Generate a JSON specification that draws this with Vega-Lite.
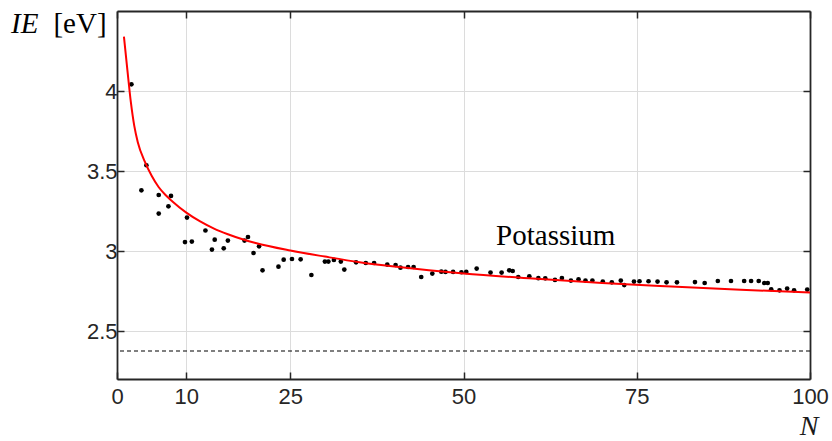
{
  "$schema": "https://vega.github.io/schema/vega-lite/v6.json",
  "width": 693,
  "height": 368,
  "autosize": {"type": "none"},
  "padding": {"left": 117, "top": 11, "right": 22, "bottom": 62},
  "background": "white",
  "config": {
    "view": {"stroke": null},
    "axis": {
      "domainColor": "#262626",
      "domainWidth": 1.8,
      "tickColor": "#262626",
      "tickWidth": 1.5,
      "tickSize": -7,
      "labelFont": "Liberation Sans",
      "labelFontSize": 22,
      "labelColor": "#262626",
      "labelOverlap": false,
      "labelFlush": false,
      "gridColor": "#dcdcdc",
      "gridWidth": 1,
      "titleFont": "Liberation Serif",
      "titleFontSize": 28,
      "titleFontStyle": "italic",
      "titleFontWeight": "normal",
      "titleColor": "#1a1a1a"
    }
  },
  "datasets": {
    "points": [
      {"N": 2.08, "IE": 4.042}, {"N": 3.52, "IE": 3.379}, {"N": 4.24, "IE": 3.536},
      {"N": 6.02, "IE": 3.35}, {"N": 6.02, "IE": 3.234}, {"N": 7.42, "IE": 3.279},
      {"N": 7.79, "IE": 3.344}, {"N": 9.81, "IE": 3.056}, {"N": 10.1, "IE": 3.209},
      {"N": 10.8, "IE": 3.059}, {"N": 12.76, "IE": 3.128}, {"N": 13.7, "IE": 3.009},
      {"N": 14.1, "IE": 3.071}, {"N": 15.4, "IE": 3.017}, {"N": 16.0, "IE": 3.065},
      {"N": 18.4, "IE": 3.065}, {"N": 18.9, "IE": 3.0875}, {"N": 19.7, "IE": 2.9875},
      {"N": 20.5, "IE": 3.029}, {"N": 21.0, "IE": 2.879}, {"N": 23.3, "IE": 2.902},
      {"N": 24.05, "IE": 2.946}, {"N": 25.25, "IE": 2.95}, {"N": 26.5, "IE": 2.948},
      {"N": 28.05, "IE": 2.85}, {"N": 30.0, "IE": 2.934}, {"N": 30.5, "IE": 2.934},
      {"N": 31.3, "IE": 2.944}, {"N": 32.3, "IE": 2.934}, {"N": 32.8, "IE": 2.884},
      {"N": 34.5, "IE": 2.929}, {"N": 35.9, "IE": 2.925}, {"N": 37.1, "IE": 2.925},
      {"N": 39.0, "IE": 2.915}, {"N": 40.2, "IE": 2.9125}, {"N": 40.9, "IE": 2.896},
      {"N": 42.0, "IE": 2.9}, {"N": 42.8, "IE": 2.9}, {"N": 43.9, "IE": 2.8375},
      {"N": 45.5, "IE": 2.859}, {"N": 46.8, "IE": 2.871}, {"N": 47.4, "IE": 2.869},
      {"N": 48.5, "IE": 2.869}, {"N": 49.7, "IE": 2.867}, {"N": 50.4, "IE": 2.869},
      {"N": 51.9, "IE": 2.89}, {"N": 53.9, "IE": 2.865}, {"N": 55.5, "IE": 2.865},
      {"N": 56.6, "IE": 2.879}, {"N": 57.1, "IE": 2.875}, {"N": 57.9, "IE": 2.8375},
      {"N": 59.5, "IE": 2.842}, {"N": 60.8, "IE": 2.83}, {"N": 61.8, "IE": 2.829},
      {"N": 63.2, "IE": 2.819}, {"N": 64.2, "IE": 2.831}, {"N": 65.5, "IE": 2.815},
      {"N": 66.6, "IE": 2.823}, {"N": 67.6, "IE": 2.815}, {"N": 68.6, "IE": 2.815},
      {"N": 70.1, "IE": 2.809}, {"N": 71.4, "IE": 2.804}, {"N": 72.7, "IE": 2.815},
      {"N": 73.2, "IE": 2.787}, {"N": 74.6, "IE": 2.809}, {"N": 75.4, "IE": 2.811},
      {"N": 76.7, "IE": 2.811}, {"N": 78.0, "IE": 2.809}, {"N": 79.3, "IE": 2.804},
      {"N": 80.8, "IE": 2.804}, {"N": 83.4, "IE": 2.806}, {"N": 84.8, "IE": 2.8},
      {"N": 86.7, "IE": 2.8125}, {"N": 88.6, "IE": 2.8125}, {"N": 90.5, "IE": 2.8125},
      {"N": 91.5, "IE": 2.8125}, {"N": 92.6, "IE": 2.8125}, {"N": 93.4, "IE": 2.8},
      {"N": 93.9, "IE": 2.8}, {"N": 94.4, "IE": 2.761}, {"N": 95.6, "IE": 2.754},
      {"N": 96.7, "IE": 2.765}, {"N": 97.7, "IE": 2.754}, {"N": 99.6, "IE": 2.759}
    ],
    "curve": [
      {"N": 1, "IE": 4.34}, {"N": 1.5, "IE": 4.13}, {"N": 2, "IE": 3.93},
      {"N": 2.5, "IE": 3.78}, {"N": 3, "IE": 3.68}, {"N": 4, "IE": 3.56},
      {"N": 5, "IE": 3.47}, {"N": 6, "IE": 3.4}, {"N": 7, "IE": 3.35},
      {"N": 8, "IE": 3.31}, {"N": 10, "IE": 3.24}, {"N": 12, "IE": 3.185},
      {"N": 14, "IE": 3.14}, {"N": 16, "IE": 3.105}, {"N": 18, "IE": 3.075},
      {"N": 20, "IE": 3.05}, {"N": 25, "IE": 3.003}, {"N": 30, "IE": 2.965},
      {"N": 35, "IE": 2.93}, {"N": 40, "IE": 2.903}, {"N": 45, "IE": 2.88},
      {"N": 50, "IE": 2.86}, {"N": 60, "IE": 2.828}, {"N": 70, "IE": 2.8},
      {"N": 80, "IE": 2.778}, {"N": 90, "IE": 2.758}, {"N": 100, "IE": 2.74}
    ]
  },
  "layer": [
    {
      "data": {"name": "points"},
      "mark": {"type": "circle", "color": "black", "opacity": 1, "size": 22},
      "encoding": {
        "x": {
          "field": "N", "type": "quantitative",
          "scale": {"domain": [0, 100], "nice": false, "zero": false},
          "axis": {
            "orient": "bottom", "values": [0, 10, 25, 50, 75, 100], "grid": true,
            "labelPadding": 14,
            "title": "N", "titleAnchor": "end", "titleAlign": "right",
            "titleX": 701, "titleY": 55, "titleBaseline": "alphabetic"
          }
        },
        "y": {
          "field": "IE", "type": "quantitative",
          "scale": {"domain": [2.2, 4.5], "nice": false, "zero": false},
          "axis": {"orient": "left", "values": [2.5, 3, 3.5, 4], "format": "~g", "grid": true, "labelPadding": 7, "title": null}
        }
      }
    },
    {
      "data": {"name": "curve"},
      "mark": {"type": "line", "color": "#ff0000", "strokeWidth": 2, "interpolate": "monotone"},
      "encoding": {
        "x": {
          "field": "N", "type": "quantitative",
          "axis": {"orient": "top", "values": [0, 10, 25, 50, 75, 100], "grid": false, "labels": false, "title": null}
        },
        "y": {
          "field": "IE", "type": "quantitative",
          "axis": {"orient": "right", "values": [2.5, 3, 3.5, 4], "grid": false, "labels": false, "title": null}
        }
      }
    },
    {
      "data": {"values": [{}]},
      "mark": {"type": "rule", "color": "black", "strokeWidth": 1.2, "strokeDash": [4, 3]},
      "encoding": {
        "y": {"datum": 2.375, "type": "quantitative", "axis": null}
      }
    },
    {
      "data": {"values": [{}]},
      "mark": {"type": "text", "font": "Liberation Serif", "fontSize": 29, "align": "left", "baseline": "alphabetic", "color": "black"},
      "encoding": {
        "x": {"datum": 54.7, "type": "quantitative", "axis": null},
        "y": {"datum": 3.04, "type": "quantitative", "axis": null},
        "text": {"value": "Potassium"}
      }
    },
    {
      "data": {"values": [{}]},
      "mark": {"type": "text", "font": "Liberation Serif", "fontSize": 29, "fontStyle": "italic", "align": "left", "baseline": "alphabetic", "color": "black"},
      "encoding": {
        "x": {"datum": -15.3, "type": "quantitative", "axis": null},
        "y": {"datum": 4.365, "type": "quantitative", "axis": null},
        "text": {"value": "IE"}
      }
    },
    {
      "data": {"values": [{}]},
      "mark": {"type": "text", "font": "Liberation Serif", "fontSize": 29, "align": "right", "baseline": "alphabetic", "color": "black"},
      "encoding": {
        "x": {"datum": -1.5, "type": "quantitative", "axis": null},
        "y": {"datum": 4.365, "type": "quantitative", "axis": null},
        "text": {"value": "[eV]"}
      }
    }
  ],
  "resolve": {"axis": {"x": "independent", "y": "independent"}}
}
